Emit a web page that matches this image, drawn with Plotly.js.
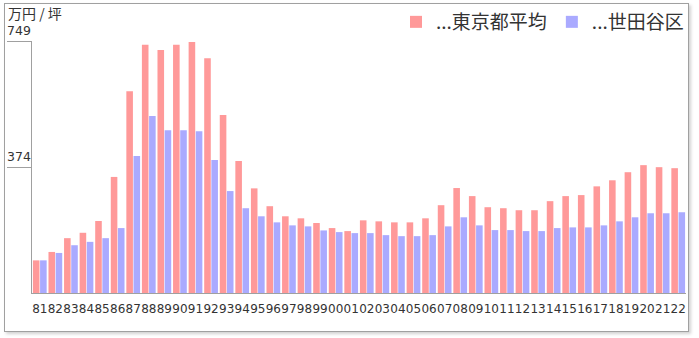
<!DOCTYPE html>
<html>
<head>
<meta charset="utf-8">
<script src="https://cdn.plot.ly/plotly-3.0.1.min.js"></script>
<style>
  html, body { margin: 0; padding: 0; background: #fff; }
  #wrap { position: relative; width: 699px; height: 338px; }
  #chart { position: absolute; left: 0; top: 0; width: 699px; height: 338px; }
  #frame { position: absolute; left: 4px; top: 3px; width: 683px; height: 327px;
           border: 1px solid #a0a0a0; box-shadow: 2px 2px 3px rgba(0,0,0,0.18);
           pointer-events: none; }
</style>
</head>
<body>
<div id="wrap">
  <div id="chart"></div>
  <div id="frame"></div>
</div>
<script>
// Categories (years, two-digit labels)
const years = ['81','82','83','84','85','86','87','88','89','90','91','92','93','94','95','96','97','98','99','00',
               '01','02','03','04','05','06','07','08','09','10','11','12','13','14','15','16','17','18','19','20','21','22'];

// 東京都平均 (万円/坪)
const tokyoAvg = [97,122,163,179,214,345,600,738,722,738,746,698,529,392,311,258,228,222,208,193,
                  184,216,213,210,210,222,261,312,288,255,252,246,246,273,288,291,317,335,359,380,374,371];

// 世田谷区 (万円/坪)
const setagaya = [97,119,142,152,163,193,407,526,484,484,481,395,303,252,228,210,201,198,186,181,
                  178,178,172,169,169,172,198,225,201,187,187,184,184,193,195,195,201,213,225,237,237,240];

// Axis ticks
const yTickVals = [374, 749];
const yTickText = ['374', '749'];
const yMax = 749;

const seriesNames = ['...東京都平均', '...世田谷区'];
const unitLabel = '万円 / 坪';

const jp = '"Noto Sans CJK JP", "Noto Sans", sans-serif';
const num = '"DejaVu Sans", sans-serif';

const traces = [
  { type: 'bar', name: seriesNames[0], x: years, y: tokyoAvg,
    marker: { color: '#FF9999' }, hoverinfo: 'x+y' },
  { type: 'bar', name: seriesNames[1], x: years, y: setagaya,
    marker: { color: '#AAAAFF' }, hoverinfo: 'x+y' }
];

const annotations = yTickVals.map((v, i) => ({
  xref: 'paper', yref: 'y', x: 0, y: v, xanchor: 'right', yanchor: 'bottom',
  xshift: 1, yshift: 1, showarrow: false, text: yTickText[i],
  font: { family: num, size: 12.5, color: '#333' }
}));

const layout = {
  width: 699, height: 338,
  margin: { l: 32, r: 13, t: 41, b: 45, pad: 0, autoexpand: false },
  paper_bgcolor: 'rgba(0,0,0,0)', plot_bgcolor: 'rgba(0,0,0,0)',
  barmode: 'group', bargap: 0.08, bargroupgap: 0.08,
  title: { text: unitLabel, xref: 'container', yref: 'container', x: 8/699, xanchor: 'left',
           y: 1 - 14/338, yanchor: 'middle', font: { family: jp, size: 14, color: '#333' } },
  showlegend: true,
  legend: { orientation: 'h', xref: 'container', yref: 'container',
            x: 1 - 10/699, xanchor: 'right', y: 1 - 22/338, yanchor: 'middle',
            font: { family: jp, size: 19, color: '#333' }, bgcolor: 'rgba(0,0,0,0)',
            itemclick: false, itemdoubleclick: false, traceorder: 'normal' },
  xaxis: { type: 'category', showline: true, linecolor: '#a0a0a0', linewidth: 1,
           showgrid: false, zeroline: false, ticks: '', tickangle: 0, ticklabelstandoff: 5,
           tickmode: 'array', tickvals: years, ticktext: years,
           tickfont: { family: num, size: 12, color: '#333' }, fixedrange: true },
  yaxis: { range: [0, yMax], showline: true, linecolor: '#a0a0a0', linewidth: 1,
           showgrid: false, zeroline: false, ticks: 'outside', ticklen: 24, tickwidth: 1,
           tickcolor: '#a0a0a0', tickmode: 'array', tickvals: yTickVals,
           showticklabels: false, fixedrange: true },
  annotations: annotations
};

Plotly.newPlot('chart', traces, layout, { displayModeBar: false, staticPlot: true });
</script>
</body>
</html>
